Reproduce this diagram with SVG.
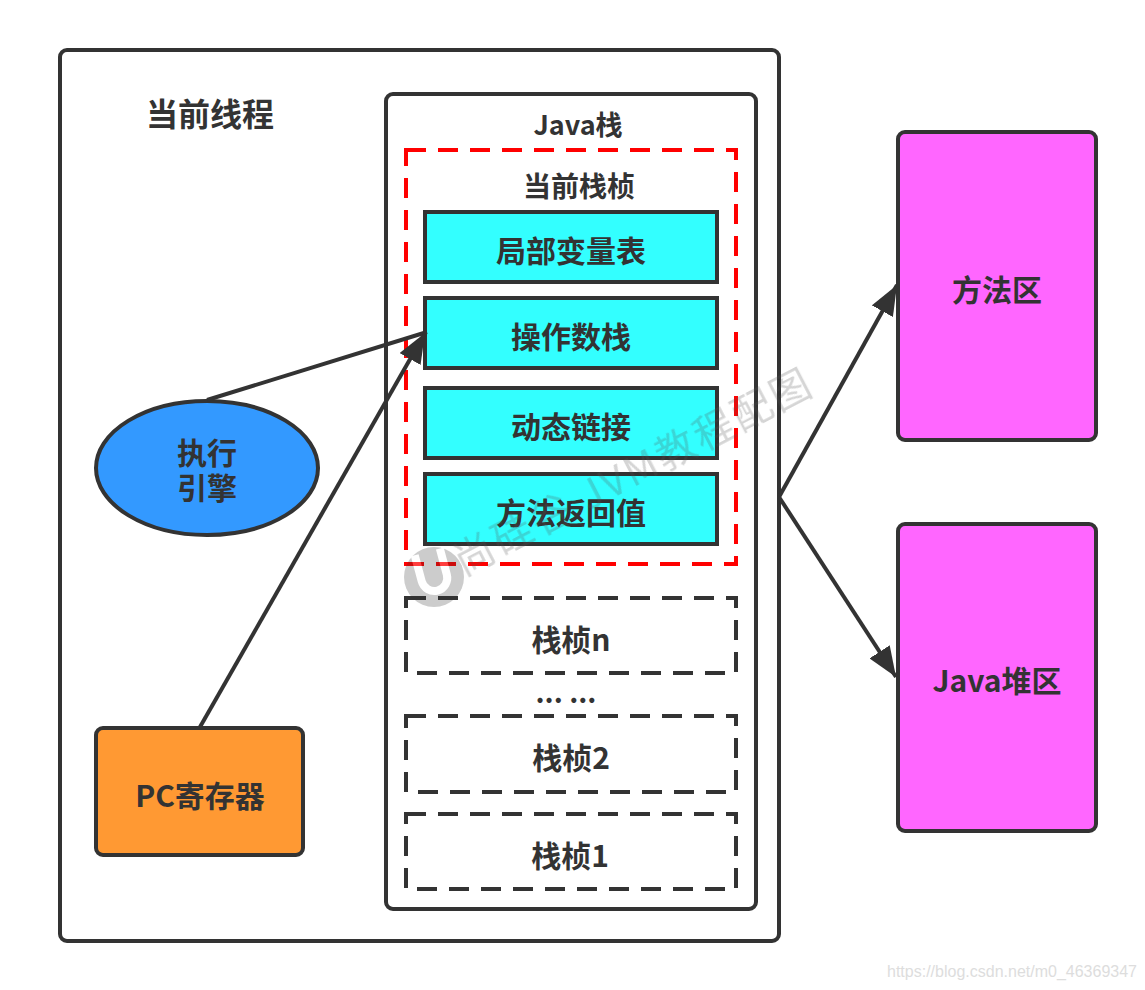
<svg xmlns="http://www.w3.org/2000/svg" width="1145" height="990" viewBox="0 0 1145 990">
<style>
text{font-family:"Noto Sans CJK SC","Noto Sans",sans-serif;font-weight:700;fill:#333;text-anchor:middle}
.b{stroke:#333;stroke-width:4}
.w{fill:#fff}
.c{fill:#3ff;stroke:#333;stroke-width:4}
.m{fill:#f6f;stroke:#333;stroke-width:4}
.d{fill:none;stroke:#333;stroke-width:4;stroke-dasharray:20 12}
.t{font-size:30px}
.l{fill:none;stroke:#333;stroke-width:4}
</style>
<defs><marker id="a" viewBox="0 0 30 24" refX="30" refY="12" markerWidth="30" markerHeight="24" markerUnits="userSpaceOnUse" orient="auto"><path d="M0 0L30 12L0 24Z" fill="#333"/></marker></defs>
<rect width="1145" height="990" fill="#fff"/>
<g id="thread"><rect class="b w" x="60" y="50" width="719" height="891" rx="7"/><text x="210" y="126" font-size="32">当前线程</text></g>
<g id="java-stack"><rect class="b w" x="386" y="94" width="370" height="815" rx="7"/><text x="578" y="135" font-size="27">Java栈</text></g>
<g id="current-frame"><rect x="406" y="150" width="330" height="414" fill="none" stroke="#f00" stroke-width="4" stroke-dasharray="20 12"/><text x="579" y="197" font-size="28">当前栈桢</text></g>
<g id="locals"><rect class="c" x="425" y="212" width="292" height="70"/><text class="t" x="571" y="262">局部变量表</text></g>
<g id="operands"><rect class="c" x="425" y="298" width="292" height="70"/><text class="t" x="571" y="348">操作数栈</text></g>
<g id="linking"><rect class="c" x="425" y="388" width="292" height="70"/><text class="t" x="571" y="438">动态链接</text></g>
<g id="return"><rect class="c" x="425" y="474" width="292" height="70"/><text class="t" x="571" y="524">方法返回值</text></g>
<g id="frame-n"><rect class="d" x="406" y="598" width="330" height="75"/><text class="t" x="571" y="651">栈桢n</text></g>
<g id="dots"><text x="566" y="703" font-size="28">... ...</text></g>
<g id="frame-2"><rect class="d" x="406" y="716" width="330" height="76"/><text class="t" x="571" y="769">栈桢2</text></g>
<g id="frame-1"><rect class="d" x="406" y="814" width="330" height="75"/><text class="t" x="570" y="867">栈桢1</text></g>
<g id="engine"><ellipse class="b" cx="207" cy="468" rx="111" ry="67" fill="#39f"/><text class="t"><tspan x="207" y="464">执行</tspan><tspan x="207" y="499">引擎</tspan></text></g>
<g id="pc"><rect class="b" x="96" y="728" width="207" height="127" rx="7" fill="#f93"/><text class="t" x="200" y="807">PC寄存器</text></g>
<g id="method-area"><rect class="m" x="898" y="132" width="198" height="308" rx="7"/><text class="t" x="997" y="301">方法区</text></g>
<g id="heap"><rect class="m" x="898" y="524" width="198" height="307" rx="7"/><text class="t" x="997" y="692">Java堆区</text></g>
<g id="connectors">
<path class="l" d="M207 400L427 332"/>
<path class="l" d="M200 727L425 333" marker-end="url(#a)"/>
<path class="l" d="M779 497L897 285" marker-end="url(#a)"/>
<path class="l" d="M779 497L896 677" marker-end="url(#a)"/>
</g>
<g id="watermark" opacity="0.25">
<text x="640" y="484" font-size="40" letter-spacing="3" style="font-weight:400;fill:#555" transform="rotate(-27.5 640 484)">尚硅谷 JVM教程配图</text>
<circle cx="434" cy="577" r="30" fill="#333"/>
<path d="M-13 -26V1a13 13 0 0 0 26 0V-26" transform="translate(434 577) rotate(-15)" fill="none" stroke="#fff" stroke-width="8"/>
</g>
<text x="1012" y="977" font-size="16" style="font-family:'Liberation Sans',sans-serif;font-weight:400;fill:#ddd">https://blog.csdn.net/m0_46369347</text>
</svg>
